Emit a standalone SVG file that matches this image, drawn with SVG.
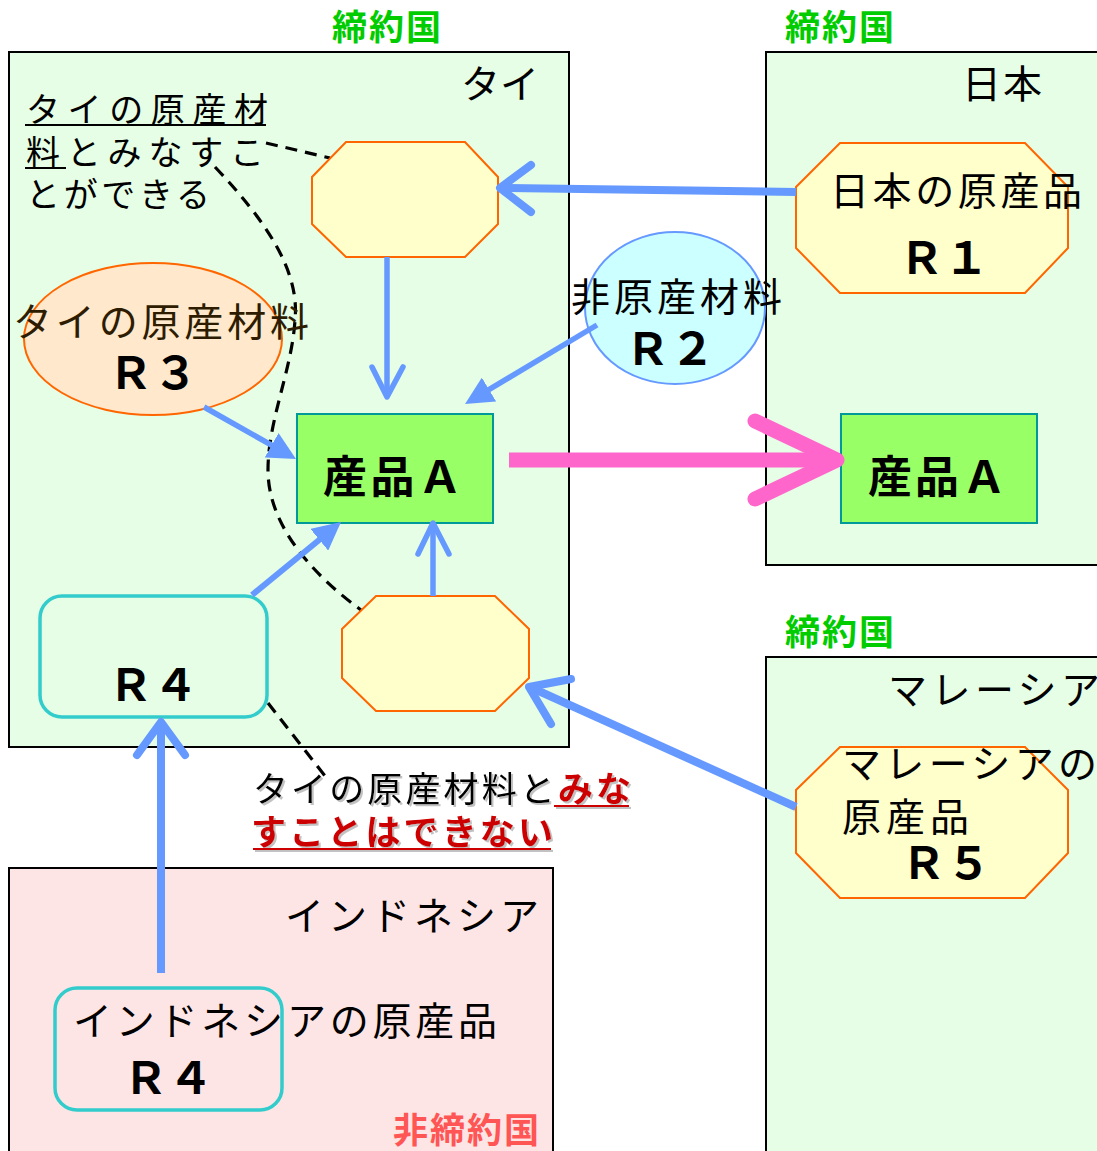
<svg xmlns="http://www.w3.org/2000/svg" width="1097" height="1151" viewBox="0 0 1097 1151">
<defs>
<style>
text{font-family:"Noto Sans CJK JP","Noto Sans CJK SC",sans-serif;fill:#000}
.lbl{font-size:39px}
.note{font-size:34px}
.note2{font-size:35px}
.rr{font-size:45px;font-weight:bold;text-anchor:middle}
.prod{font-size:44px;font-weight:bold}
.party{font-size:35px;font-weight:bold;fill:#00cc00}
.nonparty{font-size:35px;font-weight:bold;fill:#ff5555}
.red{fill:#cc0000;font-weight:bold}
.box{stroke:#000;stroke-width:2}
.green{fill:#e5fee5}
.pink{fill:#fee5e5}
.oct{fill:#ffffcc;stroke:#ff6600;stroke-width:2}
.prodbox{fill:#99ff66;stroke:#009999;stroke-width:2}
.r4{fill:none;stroke:#33cccc;stroke-width:3.5}
.blue{stroke:#6699ff;fill:none}
.chev{stroke:#6699ff;fill:none;stroke-linecap:round;stroke-linejoin:round}
.dash{stroke:#000;stroke-width:3.2;fill:none;stroke-dasharray:12 8}
</style>
<marker id="tri" markerUnits="userSpaceOnUse" viewBox="0 0 28 28" refX="8" refY="14" markerWidth="28" markerHeight="28" orient="auto">
<path d="M0,0 L28,14 L0,28 z" fill="#6699ff"/>
</marker>
<filter id="shadow" x="-5%" y="-20%" width="110%" height="140%">
<feDropShadow dx="2" dy="2" stdDeviation="0.5" flood-color="#999" flood-opacity="0.6"/>
</filter>
</defs>

<g id="regions">
<rect class="box green" x="9" y="52" width="560" height="695"/>
<rect class="box green" x="766" y="52" width="340" height="513"/>
<rect class="box green" x="766" y="657" width="340" height="510"/>
<rect class="box pink" x="9" y="868" width="544" height="300"/>
<text class="party" x="332" y="40" textLength="109">締約国</text>
<text class="party" x="785" y="40" textLength="109">締約国</text>
<text class="party" x="785" y="645" textLength="109">締約国</text>
<text class="nonparty" x="393" y="1143" textLength="146">非締約国</text>
<text class="lbl" x="461" y="98" textLength="78">タイ</text>
<text class="lbl" x="962" y="98" textLength="80">日本</text>
<text class="lbl" x="888" y="704" textLength="212">マレーシア</text>
<text class="lbl" x="285" y="930" textLength="254">インドネシア</text>
</g>

<g id="dashed">
<path class="dash" d="M266,143 L330,158"/>
<path class="dash" d="M215,167 C265,220 300,270 295,320 C292,370 268,420 268,470 C268,530 320,580 361,610"/>
<path class="dash" d="M268,703 L325,776"/>
</g>

<g id="note-can">
<text class="note" x="26" y="122" textLength="242">タイの原産材</text>
<text class="note" x="26" y="165" textLength="238">料とみなすこ</text>
<text class="note" x="26" y="207" textLength="184">とができる</text>
<line x1="25" y1="125" x2="266" y2="125" stroke="#000" stroke-width="2"/>
<line x1="25" y1="168" x2="66" y2="168" stroke="#000" stroke-width="2"/>
</g>

<g id="node-oct1">
<polygon class="oct" points="346,142 465,142 498,177 498,224 465,257 346,257 312,224 312,177"/>
</g>

<g id="node-r1">
<polygon class="oct" points="840,143 1025,143 1068,187 1068,248 1025,293 840,293 796,248 796,187"/>
<text class="lbl" x="830" y="205" textLength="252">日本の原産品</text>
<text class="rr" x="944" y="274">Ｒ１</text>
</g>

<g id="node-r3">
<ellipse cx="153" cy="339" rx="129" ry="76" fill="#ffe8cc" stroke="#ff6600" stroke-width="2"/>
<text class="lbl" x="13" y="336" textLength="296" style="fill:#2e1c00">タイの原産材料</text>
<text class="rr" x="153" y="389">Ｒ３</text>
</g>

<g id="node-r2">
<ellipse cx="675" cy="308" rx="90" ry="76" fill="#ccffff" stroke="#6699ff" stroke-width="2"/>
<text class="lbl" x="571" y="311" textLength="211">非原産材料</text>
<text class="rr" x="670" y="365">Ｒ２</text>
</g>

<g id="node-prodA-th">
<rect class="prodbox" x="297" y="414" width="196" height="109"/>
<text class="prod" x="323" y="493" textLength="139">産品Ａ</text>
</g>

<g id="node-prodA-jp">
<rect class="prodbox" x="841" y="414" width="196" height="109"/>
<text class="prod" x="868" y="493" textLength="138">産品Ａ</text>
</g>

<g id="node-r4-th">
<rect class="r4" x="40" y="596" width="227" height="121" rx="22"/>
<text class="rr" x="153" y="701">Ｒ４</text>
</g>

<g id="node-oct2">
<polygon class="oct" points="376,596 495,596 529,629 529,678 495,711 376,711 342,678 342,629"/>
</g>

<g id="node-r5">
<polygon class="oct" points="840,747 1025,747 1068,790 1068,853 1025,898 840,898 796,853 796,790"/>
<text class="lbl" x="842" y="778" textLength="255">マレーシアの</text>
<text class="lbl" x="842" y="831" textLength="127">原産品</text>
<text class="rr" x="946" y="879">Ｒ５</text>
</g>

<g id="node-r4-id">
<rect class="r4" x="55" y="988" width="227" height="122" rx="22"/>
<text class="lbl" x="73" y="1035" textLength="424">インドネシアの原産品</text>
<text class="rr" x="168" y="1094">Ｒ４</text>
</g>

<g id="note-cannot" filter="url(#shadow)">
<text class="note2" x="253" y="802" textLength="378">タイの原産材料と<tspan class="red">みな</tspan></text>
<text class="note2 red" x="251" y="845" textLength="302">すことはできない</text>
<line x1="554" y1="806" x2="629" y2="806" stroke="#cc0000" stroke-width="2"/>
<line x1="253" y1="849" x2="551" y2="849" stroke="#cc0000" stroke-width="2"/>
</g>

<g id="connectors">
<line class="blue" x1="796" y1="192" x2="502" y2="188" stroke-width="8"/>
<polyline class="chev" points="531,165 500,188 531,212" stroke-width="8"/>
<line class="blue" x1="387" y1="257" x2="387" y2="395" stroke-width="5.5"/>
<polyline class="chev" points="372,367 387,397 403,367" stroke-width="5.5"/>
<line class="blue" x1="204" y1="407" x2="278.6" y2="449.2" stroke-width="5.5" marker-end="url(#tri)"/>
<line class="blue" x1="597" y1="325" x2="482.2" y2="393.7" stroke-width="5.5" marker-end="url(#tri)"/>
<line class="blue" x1="252" y1="595" x2="325.5" y2="534.7" stroke-width="6" marker-end="url(#tri)"/>
<line class="blue" x1="433" y1="596" x2="433" y2="525" stroke-width="5.5"/>
<polyline class="chev" points="418,554 433,523 449,554" stroke-width="5.5"/>
<line class="blue" x1="796" y1="807" x2="532" y2="688" stroke-width="8"/>
<polyline class="chev" points="571,679 529,687 551,724" stroke-width="8"/>
<line class="blue" x1="161" y1="973" x2="161" y2="725" stroke-width="8"/>
<polyline class="chev" points="137,755 161,722 185,755" stroke-width="8"/>
<line x1="509" y1="460" x2="832" y2="460" stroke="#ff66cc" stroke-width="15"/>
<polyline points="755,421 837,460 755,499" fill="none" stroke="#ff66cc" stroke-width="15" stroke-linecap="round" stroke-linejoin="round"/>
</g>
</svg>
